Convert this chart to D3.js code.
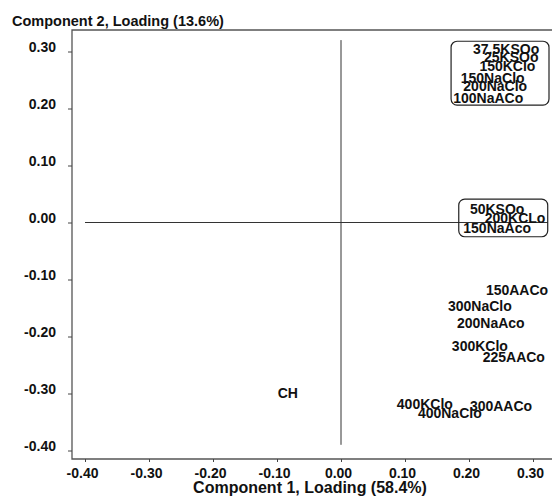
<!DOCTYPE html>
<meta charset="utf-8">
<script src="https://d3js.org/d3.v7.min.js"></script>
<style>
  body { margin: 0; background: #fff; }
  text { font-family: "Liberation Sans", Arial, sans-serif; font-weight: bold; fill: #111; }
</style>
<body>
<svg id="chart" width="552" height="497"></svg>
<script>
  // loadings (component 1, component 2)
  const labels = ["37.5KSOo", "25KSOo", "150KClo", "150NaClo", "200NaClo", "100NaACo",
                  "50KSOo", "200KCLo", "150NaAco",
                  "150AACo", "300NaClo", "200NaAco", "300KClo", "225AACo",
                  "400KClo", "300AACo", "400NaClo", "CH"];
  const comp1 = [0.258, 0.266, 0.260, 0.237, 0.241, 0.230,
                 0.244, 0.272, 0.244,
                 0.275, 0.217, 0.234, 0.217, 0.270,
                 0.131, 0.250, 0.170, -0.083];
  const comp2 = [0.304, 0.290, 0.275, 0.253, 0.239, 0.218,
                 0.024, 0.008, -0.010,
                 -0.118, -0.146, -0.176, -0.217, -0.236,
                 -0.318, -0.321, -0.334, -0.299];

  // cluster outlines in loading units: [x0, x1, y0, y1]
  const clusterBoxes = [[0.172, 0.325, 0.318, 0.206], [0.184, 0.323, 0.041, -0.025]];

  const xTicks = [-0.4, -0.3, -0.2, -0.1, 0, 0.1, 0.2, 0.3];
  const yTicks = [0.3, 0.2, 0.1, 0, -0.1, -0.2, -0.3, -0.4];
  const xTitle = "Component 1, Loading (58.4%)";
  const yTitle = "Component 2, Loading (13.6%)";

  const svg = d3.select("#chart");
  const x = d3.scaleLinear().domain([-0.4, 0.3]).range([85, 533]);
  const y = d3.scaleLinear().domain([0.3, -0.4]).range([51.5, 450.5]);
  const fmt = d => d.toFixed(2);

  const frameLeft = 72, frameTop = 30, frameBottom = 459;

  // frame (right side runs off the picture)
  svg.append("path")
    .attr("d", `M${560},${frameTop}H${frameLeft}V${frameBottom}H${560}`)
    .attr("fill", "none").attr("stroke", "#555").attr("stroke-width", 1.3);

  // axes
  const yAxis = svg.append("g").attr("transform", `translate(${frameLeft},0)`)
    .call(d3.axisLeft(y).tickValues(yTicks).tickFormat(fmt).tickSize(4).tickPadding(12));
  yAxis.select(".domain").remove();
  yAxis.selectAll("line").attr("stroke", "#444");
  yAxis.selectAll("text").attr("dy", "0").style("font-size", "14px").attr("fill", "#111");

  const xAxis = svg.append("g").attr("transform", `translate(0,${frameBottom})`)
    .call(d3.axisBottom(x).tickValues(xTicks).tickFormat(fmt).tickSize(3).tickPadding(6));
  xAxis.select(".domain").remove();
  xAxis.selectAll("line").attr("stroke", "#444");
  xAxis.selectAll("text").attr("dx", "-3").style("font-size", "14px").attr("fill", "#111");

  // zero reference lines
  svg.append("line")
    .attr("x1", x(-0.4)).attr("x2", x(0.323)).attr("y1", y(0)).attr("y2", y(0))
    .attr("stroke", "#333").attr("stroke-width", 1);
  svg.append("line")
    .attr("x1", x(0)).attr("x2", x(0)).attr("y1", y(0.32)).attr("y2", y(-0.39))
    .attr("stroke", "#333").attr("stroke-width", 1);

  // cluster boxes
  svg.selectAll("rect.cluster")
    .data(clusterBoxes)
    .join("rect")
      .attr("class", "cluster")
      .attr("x", d => x(d[0])).attr("y", d => y(d[2]))
      .attr("width", d => x(d[1]) - x(d[0])).attr("height", d => y(d[3]) - y(d[2]))
      .attr("rx", 6)
      .attr("fill", "none").attr("stroke", "#222").attr("stroke-width", 1.2);

  // loading labels
  svg.selectAll("text.pt")
    .data(labels)
    .join("text")
      .attr("class", "pt")
      .attr("x", (d, i) => x(comp1[i]))
      .attr("y", (d, i) => y(comp2[i]))
      .attr("dy", "0.36em")
      .attr("text-anchor", "middle")
      .style("font-size", "14px")
      .text(d => d);

  // titles
  svg.append("text").attr("x", 12).attr("y", 26).style("font-size", "14.5px").text(yTitle);
  svg.append("text").attr("x", 310).attr("y", 493).attr("text-anchor", "middle")
    .style("font-size", "16px").text(xTitle);
</script>
</body>
